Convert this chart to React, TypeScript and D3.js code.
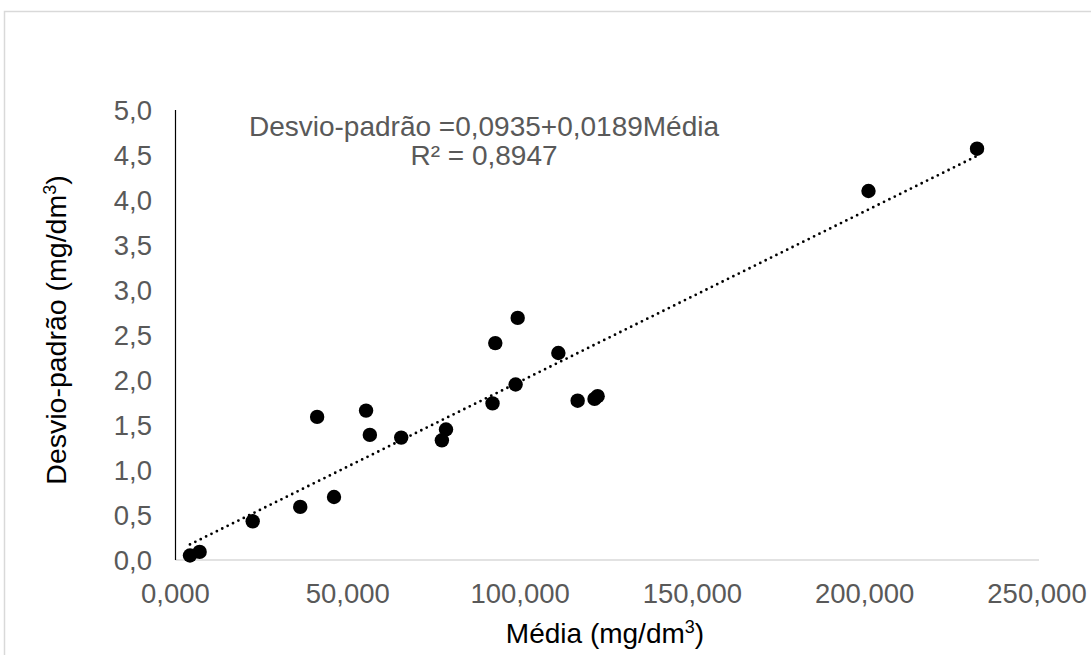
import React, { useEffect, useRef } from "react";
import * as d3 from "d3";

// Média (mg/dm³) and Desvio-padrão (mg/dm³) of each sample
const media: number[] = [4.2, 7.0, 22.4, 36.2, 46.0, 41.1, 55.3, 56.4, 65.5, 77.3, 78.5, 92.0, 92.8, 98.7, 99.3, 111.1, 116.7, 121.6, 122.5, 201.1, 232.6];
const desvio: number[] = [0.05, 0.09, 0.43, 0.59, 0.70, 1.59, 1.66, 1.39, 1.36, 1.33, 1.45, 1.74, 2.41, 1.95, 2.69, 2.30, 1.77, 1.79, 1.82, 4.10, 4.57];

const xTicks: number[] = [0, 50, 100, 150, 200, 250];
const yTicks: number[] = [0, 0.5, 1, 1.5, 2, 2.5, 3, 3.5, 4, 4.5, 5];

// linear trendline coefficients
const intercept = 0.0935;
const slope = 0.0189;
const equationText = "Desvio-padrão =0,0935+0,0189Média";
const r2Text = "R² = 0,8947";

const W = 1091;
const H = 655;
const FONT = "'Liberation Sans', Arial, sans-serif";

const ptBR = d3.formatLocale({ decimal: ",", thousands: ".", grouping: [3], currency: ["R$", ""] });
const fmtX = ptBR.format(".3f");
const fmtY = ptBR.format(".1f");

export default function App() {
  const ref = useRef<SVGSVGElement>(null);

  useEffect(() => {
    const svg = d3.select(ref.current);
    svg.selectAll("*").remove();

    const x = d3.scaleLinear().domain([0, 250]).range([175.5, 1037]);
    const y = d3.scaleLinear().domain([0, 5]).range([560, 110]);

    // chart frame
    svg.append("rect")
      .attr("x", 4.5).attr("y", 11.5)
      .attr("width", W + 20).attr("height", H + 20)
      .attr("fill", "#fff").attr("stroke", "#d9d9d9").attr("stroke-width", 1.5);

    // x axis line
    svg.append("line")
      .attr("x1", x(0)).attr("x2", x(250) + 2)
      .attr("y1", y(0)).attr("y2", y(0))
      .attr("stroke", "#d9d9d9").attr("stroke-width", 1.3);

    // y axis line
    svg.append("line")
      .attr("x1", x(0)).attr("x2", x(0))
      .attr("y1", y(5)).attr("y2", y(0))
      .attr("stroke", "#000").attr("stroke-width", 1.2);

    // tick labels
    svg.append("g").selectAll("text").data(xTicks).join("text")
      .attr("x", (d) => x(d)).attr("y", 603)
      .attr("text-anchor", "middle")
      .attr("font-family", FONT).attr("font-size", 27.5).attr("fill", "#595959")
      .text((d) => fmtX(d));

    svg.append("g").selectAll("text").data(yTicks).join("text")
      .attr("x", 152).attr("y", (d) => y(d) + 9.5)
      .attr("text-anchor", "end")
      .attr("font-family", FONT).attr("font-size", 27.5).attr("fill", "#595959")
      .text((d) => fmtY(d));

    // trendline over the data range
    const [xMin, xMax] = d3.extent(media) as [number, number];
    const trend = d3.line<number>().x((d) => x(d)).y((d) => y(intercept + slope * d));
    svg.append("path")
      .attr("d", trend([xMin, xMax]))
      .attr("fill", "none").attr("stroke", "#000").attr("stroke-width", 2.8)
      .attr("stroke-linecap", "round").attr("stroke-dasharray", "0 6");

    // points
    svg.append("g").selectAll("circle").data(media).join("circle")
      .attr("cx", (d) => x(d)).attr("cy", (_d, i) => y(desvio[i]))
      .attr("r", 7.2).attr("fill", "#000");

    // equation annotation
    svg.append("text")
      .attr("x", 484).attr("y", 136).attr("text-anchor", "middle")
      .attr("font-family", FONT).attr("font-size", 28).attr("fill", "#595959")
      .text(equationText);
    svg.append("text")
      .attr("x", 484).attr("y", 165).attr("text-anchor", "middle")
      .attr("font-family", FONT).attr("font-size", 28).attr("fill", "#595959")
      .text(r2Text);

    // axis titles
    const xt = svg.append("text")
      .attr("x", 605).attr("y", 643).attr("text-anchor", "middle")
      .attr("font-family", FONT).attr("font-size", 28).attr("fill", "#000");
    xt.append("tspan").text("Média (mg/dm");
    xt.append("tspan").attr("font-size", 18).attr("dy", -10).text("3");
    xt.append("tspan").attr("dy", 10).text(")");

    const yt = svg.append("text")
      .attr("transform", "translate(66,330) rotate(-90)")
      .attr("text-anchor", "middle")
      .attr("font-family", FONT).attr("font-size", 28.5).attr("fill", "#000");
    yt.append("tspan").text("Desvio-padrão (mg/dm");
    yt.append("tspan").attr("font-size", 18).attr("dy", -10).text("3");
    yt.append("tspan").attr("dy", 10).text(")");
  }, []);

  return (
    <svg
      ref={ref}
      width={W}
      height={H}
      style={{ position: "absolute", left: 0, top: 0, background: "#fff" }}
    />
  );
}
